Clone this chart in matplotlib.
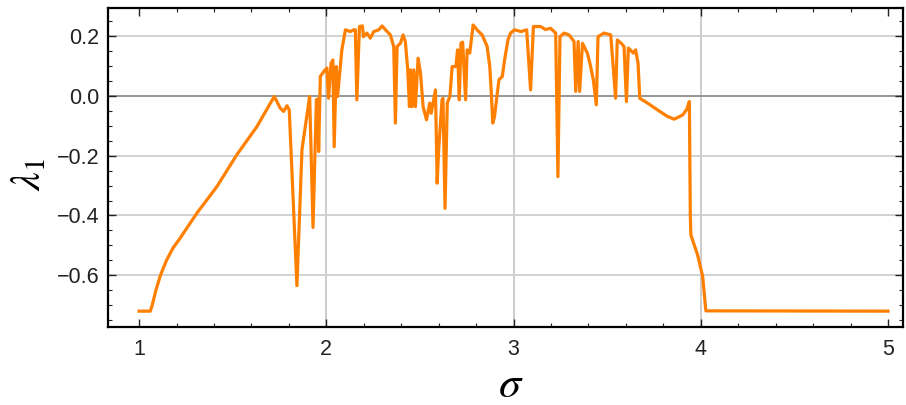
import matplotlib
matplotlib.use("Agg")
import matplotlib.pyplot as plt
import numpy as np
from matplotlib.ticker import MultipleLocator

# values
sigma = [
    1.000, 1.060, 1.070, 1.090, 1.112, 1.130, 1.148, 1.180, 1.219, 1.309,
    1.416, 1.522, 1.629, 1.722, 1.754, 1.772, 1.790, 1.802, 1.843, 1.870,
    1.911, 1.929, 1.947, 1.955, 1.959, 1.968, 1.986, 2.003, 2.012, 2.025,
    2.035, 2.042, 2.053, 2.060, 2.070, 2.083, 2.102, 2.128, 2.146, 2.155,
    2.163, 2.177, 2.193, 2.198, 2.217, 2.235, 2.253, 2.280, 2.298, 2.316,
    2.342, 2.360, 2.369, 2.378, 2.396, 2.410, 2.422, 2.435, 2.444, 2.449,
    2.458, 2.467, 2.476, 2.490, 2.503, 2.517, 2.535, 2.552, 2.560, 2.583,
    2.592, 2.600, 2.618, 2.623, 2.634, 2.646, 2.660, 2.672, 2.692, 2.701,
    2.710, 2.719, 2.728, 2.744, 2.752, 2.766, 2.784, 2.805, 2.832, 2.859,
    2.873, 2.882, 2.889, 2.898, 2.909, 2.922, 2.940, 2.952, 2.970, 2.984,
    3.005, 3.040, 3.070, 3.091, 3.106, 3.144, 3.170, 3.198, 3.225, 3.237,
    3.248, 3.270, 3.296, 3.323, 3.332, 3.345, 3.353, 3.368, 3.394, 3.408,
    3.426, 3.442, 3.451, 3.483, 3.519, 3.545, 3.554, 3.575, 3.590, 3.603,
    3.613, 3.640, 3.652, 3.665, 3.674, 3.720, 3.769, 3.820, 3.858, 3.903,
    3.925, 3.939, 3.944, 3.947, 3.983, 4.010, 4.027, 5.000,
]
lam1 = [
    -0.720, -0.720, -0.700, -0.650, -0.604, -0.575, -0.548, -0.510, -0.476, -0.392,
    -0.303, -0.197, -0.103, -0.002, -0.041, -0.052, -0.033, -0.047, -0.635, -0.180,
    -0.002, -0.440, -0.013, -0.010, -0.186, 0.065, 0.081, 0.093, -0.008, 0.109,
    0.120, -0.170, 0.098, -0.002, 0.065, 0.154, 0.221, 0.215, 0.221, 0.221,
    -0.013, 0.232, 0.234, 0.198, 0.210, 0.193, 0.215, 0.221, 0.234, 0.221,
    0.204, 0.165, -0.091, 0.165, 0.176, 0.204, 0.182, 0.087, -0.036, 0.087,
    -0.036, 0.087, -0.036, 0.126, 0.076, -0.036, -0.080, -0.024, -0.058, 0.020,
    -0.292, -0.180, -0.013, -0.008, -0.376, -0.024, -0.002, 0.098, 0.098, 0.154,
    -0.013, 0.176, 0.180, -0.013, 0.154, 0.143, 0.237, 0.221, 0.204, 0.165,
    0.098, 0.000, -0.091, -0.070, -0.013, 0.054, 0.065, 0.120, 0.187, 0.210,
    0.221, 0.215, 0.221, 0.020, 0.232, 0.232, 0.222, 0.226, 0.210, -0.270,
    0.198, 0.210, 0.204, 0.182, 0.015, 0.182, 0.015, 0.176, 0.143, 0.109,
    0.054, -0.030, 0.198, 0.210, 0.204, -0.008, 0.187, 0.176, 0.165, -0.019,
    0.160, 0.143, 0.154, 0.109, -0.008, -0.026, -0.047, -0.068, -0.078, -0.064,
    -0.045, -0.019, -0.400, -0.465, -0.532, -0.604, -0.719, -0.720,
]

x_ticks = [1, 2, 3, 4, 5]
y_ticks = [0.2, 0.0, -0.2, -0.4, -0.6]

plt.rcParams['mathtext.fontset'] = 'stix'

fig = plt.figure(figsize=(9.06, 4.05), dpi=100)
ax = fig.add_axes([0.1192, 0.1926, 0.8775, 0.7877])

# grid like Mathematica's GridLines
for xv in [2, 3, 4]:
    ax.axvline(xv, color='#c8c8c8', lw=1.3, zorder=0)
for yv in y_ticks:
    ax.axhline(yv, color='#8c8c8c' if yv == 0 else '#cfcfcf', lw=1.3, zorder=0)

ax.plot(sigma, lam1, color='#ff8000', lw=2.3, zorder=3)

ax.set_xlim(0.834, 5.08)
ax.set_ylim(-0.773, 0.294)
ax.set_xticks(x_ticks)
ax.set_xticklabels([str(v) for v in x_ticks])
ax.set_yticks(y_ticks)
ax.set_yticklabels(['0.2', '0.0', '\u22120.2', '\u22120.4', '\u22120.6'])
ax.xaxis.set_minor_locator(MultipleLocator(0.2))
ax.yaxis.set_minor_locator(MultipleLocator(0.05))
ax.tick_params(which='both', direction='in', top=True, right=True, color='#222222')
ax.tick_params(which='major', length=6, width=1, labelsize=15.5)
ax.tick_params(axis='x', which='major', pad=9)
ax.tick_params(axis='y', which='major', pad=6)
ax.tick_params(which='minor', length=3, width=0.8)
for lab in ax.get_xticklabels() + ax.get_yticklabels():
    lab.set_family('Liberation Sans')
    lab.set_color('#222222')
for sp in ax.spines.values():
    sp.set_linewidth(1.6)

fig.text(0.031, 0.57, r'$\lambda_1$', rotation=90, fontsize=30, ha='center', va='center')
fig.text(0.564, 0.05, r'$\sigma$', fontsize=32, ha='center', va='center')

fig.savefig('out.png', dpi=100)
